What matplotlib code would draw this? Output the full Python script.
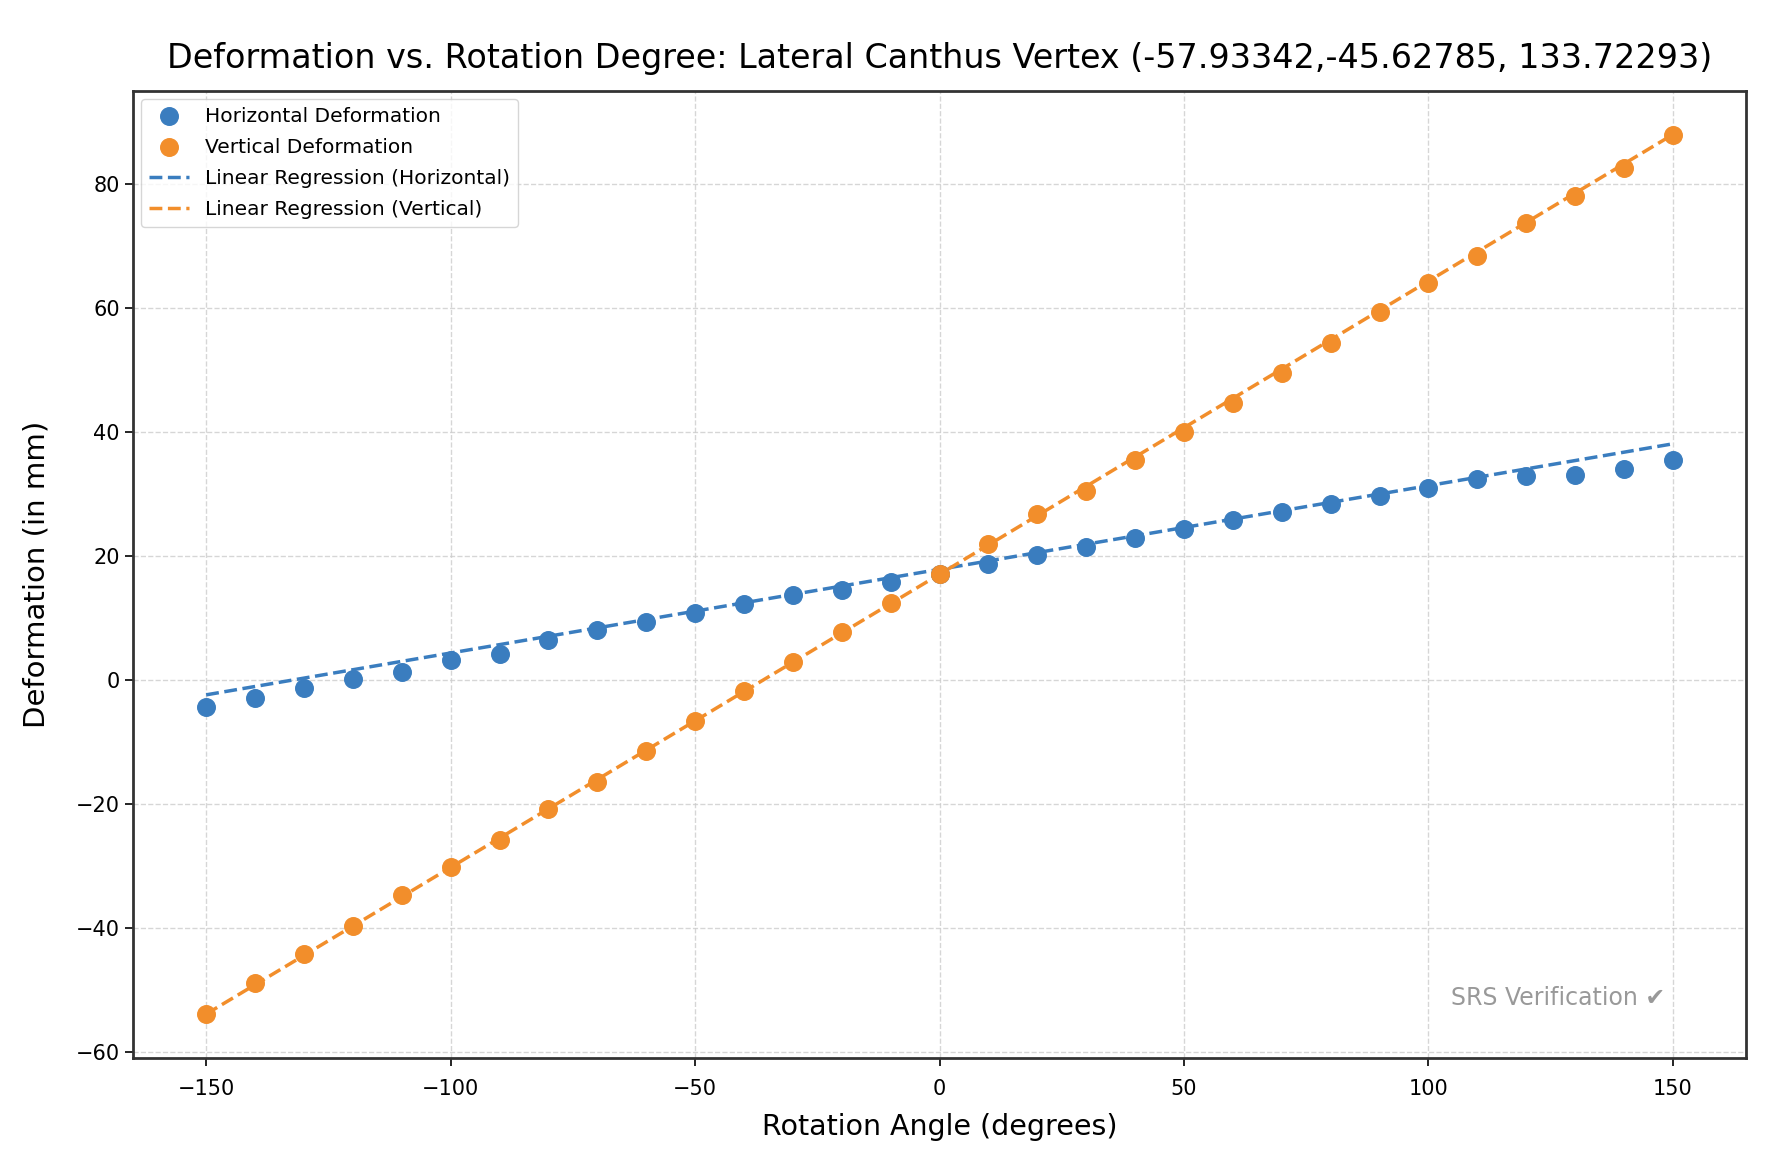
import numpy as np
import matplotlib
matplotlib.use("Agg")
import matplotlib.pyplot as plt

angles = list(range(-150, 151, 10))
horizontal = [-4.3, -2.9, -1.3, 0.2, 1.4, 3.3, 4.2, 6.5, 8.1, 9.4, 10.8, 12.3, 13.7,
              14.6, 15.9, 17.2, 18.8, 20.2, 21.5, 22.9, 24.4, 25.8, 27.1, 28.5, 29.8,
              31.1, 32.5, 32.9, 33.1, 34.1, 35.6]
vertical = [-53.8, -48.8, -44.1, -39.6, -34.7, -30.2, -25.8, -20.8, -16.4, -11.4, -6.5,
            -1.8, 2.9, 7.8, 12.5, 17.2, 22.0, 26.9, 30.5, 35.6, 40.1, 44.8, 49.5, 54.4,
            59.4, 64.1, 68.5, 73.7, 78.2, 82.7, 88.0]
reg_h = (0.135, 17.9)   # slope, intercept
reg_v = (0.473, 17.1)

x = np.array(angles)
fig = plt.figure(figsize=(17.71, 11.61), dpi=100)
ax = fig.add_axes([0.075, 0.0887, 0.911, 0.8333])

blue = '#3a7dbf'
orange = '#f28e2b'
ax.scatter(x, horizontal, s=160, color=blue, label='Horizontal Deformation', zorder=3)
ax.scatter(x, vertical, s=160, color=orange, label='Vertical Deformation', zorder=3)
ax.plot(x, reg_h[0] * x + reg_h[1], '--', color=blue, lw=2.5, label='Linear Regression (Horizontal)', zorder=2)
ax.plot(x, reg_v[0] * x + reg_v[1], '--', color=orange, lw=2.5, label='Linear Regression (Vertical)', zorder=2)

ax.grid(True, linestyle='--', color='#cccccc', alpha=0.8, lw=1)
ax.set_axisbelow(True)
ax.set_title('Deformation vs. Rotation Degree: Lateral Canthus Vertex (-57.93342,-45.62785, 133.72293)',
             fontsize=24, pad=16)
ax.set_xlabel('Rotation Angle (degrees)', fontsize=20.5, labelpad=10)
ax.set_ylabel('Deformation (in mm)', fontsize=21, labelpad=18)
ax.tick_params(labelsize=15, length=6, width=1.2)
ax.tick_params(axis='x', pad=9)
ax.set_xticks([-150, -100, -50, 0, 50, 100, 150])
ax.set_yticks([-60, -40, -20, 0, 20, 40, 60, 80])
for s in ax.spines.values():
    s.set_linewidth(2)
    s.set_color('#333333')
ax.legend(loc='upper left', fontsize=14.5, framealpha=0.8, labelspacing=0.6,
          borderaxespad=0.4)
ax.text(0.95, 0.05, 'SRS Verification \u2714', transform=ax.transAxes, ha='right', va='bottom',
        fontsize=17, color='gray', alpha=0.8)

fig.savefig('out.png', dpi=100)
